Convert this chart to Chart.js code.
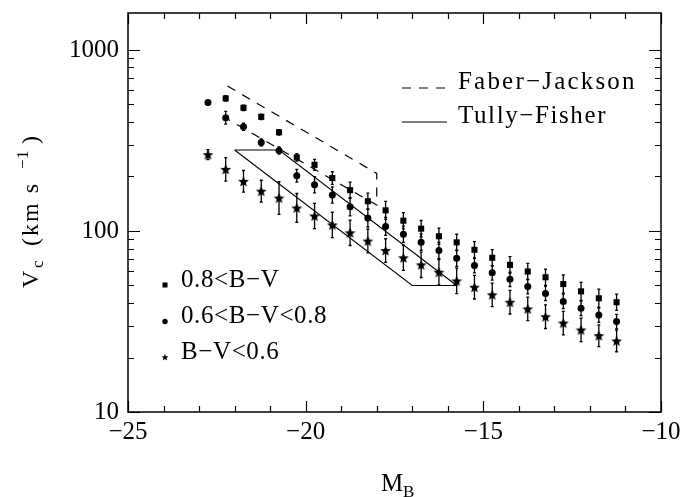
<!DOCTYPE html>
<html>
<head>
<meta charset="utf-8">
<script src="https://cdn.jsdelivr.net/npm/chart.js@4.4.1/dist/chart.umd.min.js"></script>
<style>
  html, body { margin: 0; padding: 0; background: #fff; }
  canvas { display: block; }
</style>
</head>
<body>
<canvas id="c" width="686" height="497"></canvas>
<script>
// Magnitude bins (M_B) for each colour class
const magRed  = [-22.25, -21.75, -21.25, -20.75, -20.25, -19.75, -19.25, -18.75, -18.25, -17.75, -17.25, -16.75,
                 -16.25, -15.75, -15.25, -14.75, -14.25, -13.75, -13.25, -12.75, -12.25, -11.75, -11.25];
const magMid  = [-22.75, -22.25, -21.75, -21.25, -20.75, -20.25, -19.75, -19.25, -18.75, -18.25, -17.75, -17.25,
                 -16.75, -16.25, -15.75, -15.25, -14.75, -14.25, -13.75, -13.25, -12.75, -12.25, -11.75, -11.25];
const magBlue = [-22.75, -22.25, -21.75, -21.25, -20.75, -20.25, -19.75, -19.25, -18.75, -18.25, -17.75, -17.25,
                 -16.75, -16.25, -15.75, -15.25, -14.75, -14.25, -13.75, -13.25, -12.75, -12.25, -11.75, -11.25];

// Circular velocity V_c (km/s)
const vRed  = [540, 479, 427, 351, 255, 232, 196, 168, 146, 130, 114, 103,
               93.5, 86.5, 78.7, 71.1, 65, 59.7, 55.5, 50.9, 46.4, 42.5, 40.4];
const vMid  = [513, 422, 376, 308, 278, 202, 180, 158, 136, 118, 106, 96,
               86.7, 78, 70.6, 64.4, 58.7, 54.1, 49.3, 45.2, 40.8, 37.4, 34.3, 31.6];
const vBlue = [264, 219, 188, 166, 152, 134, 121, 108, 97.7, 88, 78, 71.1,
               65, 59.2, 53, 48.9, 44.4, 40.4, 37.1, 33.6, 31.0, 28.4, 26.4, 24.7];

// Half-length of the error bars, in dex
const errRed  = [0.015, 0.015, 0.015, 0.015, 0.02, 0.03, 0.035, 0.045, 0.045, 0.05, 0.045, 0.045,
                 0.045, 0.045, 0.045, 0.045, 0.045, 0.045, 0.045, 0.05, 0.05, 0.05, 0.045];
const errMid  = [0.01, 0.035, 0.02, 0.02, 0.02, 0.035, 0.045, 0.045, 0.05, 0.05, 0.05, 0.045,
                 0.045, 0.045, 0.045, 0.04, 0.04, 0.04, 0.04, 0.04, 0.04, 0.04, 0.04, 0.04];
const errBlue = [0.028, 0.065, 0.06, 0.06, 0.09, 0.08, 0.07, 0.07, 0.07, 0.065, 0.065, 0.07,
                 0.07, 0.07, 0.07, 0.065, 0.065, 0.065, 0.065, 0.065, 0.065, 0.065, 0.06, 0.06];

// Faber-Jackson and Tully-Fisher relation outlines
const fjMag = [-22.2, -18.0, -18.0, -22.2];
const fjV   = [632, 208, 139, 415];
const tfMag = [-22.0, -20.75, -15.75, -17.0, -22.0];
const tfV   = [280, 280, 50, 50, 280];

// Axis ticks
const xMajor = [-25, -20, -15, -10];
const xMinor = [-24, -23, -22, -21, -19, -18, -17, -16, -14, -13, -12, -11];
const yMajor = [10, 100, 1000];
const yMinor = [20, 30, 40, 50, 60, 70, 80, 90, 200, 300, 400, 500, 600, 700, 800, 900];

const legendColours = ['0.8<B\u2212V', '0.6<B\u2212V<0.8', 'B\u2212V<0.6'];
const legendLines = ['Faber\u2212Jackson', 'Tully\u2212Fisher'];

const FONT = 'Liberation Serif';

function starPath(ctx, cx, cy, ro, ri) {
  ctx.beginPath();
  for (let i = 0; i < 10; i++) {
    const r = i % 2 === 0 ? ro : ri;
    const a = -Math.PI / 2 + i * Math.PI / 5;
    const px = cx + r * Math.cos(a), py = cy + r * Math.sin(a);
    if (i === 0) ctx.moveTo(px, py); else ctx.lineTo(px, py);
  }
  ctx.closePath();
}

function makeStar(size, ro, ri) {
  const c = document.createElement('canvas');
  c.width = size; c.height = size;
  const g = c.getContext('2d');
  g.fillStyle = '#000';
  starPath(g, size / 2, size / 2 + 0.5, ro, ri);
  g.fill();
  return c;
}
const starImg = makeStar(13, 5.7, 2.5);

const pts = (xs, ys) => xs.map((v, i) => ({ x: v, y: ys[i] }));

// Inward ticks and frame on all four sides, plus error bars, legend and axis titles
const decorations = {
  id: 'decorations',
  beforeDatasetsDraw(chart) {
    const { ctx, scales: { x, y } } = chart;
    ctx.save();
    ctx.strokeStyle = '#000';
    ctx.lineWidth = 1.3;
    chart.data.datasets.forEach(ds => {
      if (!ds.errDex) return;
      ds.data.forEach((p, i) => {
        const f = Math.pow(10, ds.errDex[i]);
        const px = x.getPixelForValue(p.x);
        const top = y.getPixelForValue(p.y * f);
        const bot = y.getPixelForValue(p.y / f);
        ctx.beginPath();
        ctx.moveTo(px, top); ctx.lineTo(px, bot);
        ctx.moveTo(px - 1.5, top); ctx.lineTo(px + 1.5, top);
        ctx.moveTo(px - 1.5, bot); ctx.lineTo(px + 1.5, bot);
        ctx.stroke();
      });
    });
    ctx.restore();
  },
  afterDraw(chart) {
    const { ctx, chartArea: a, scales: { x, y } } = chart;
    ctx.save();
    ctx.strokeStyle = '#000';
    ctx.fillStyle = '#000';
    ctx.lineWidth = 1.5;
    ctx.strokeRect(a.left, a.top, a.right - a.left, a.bottom - a.top);

    ctx.lineWidth = 1.2;
    ctx.beginPath();
    const xTick = (v, len) => {
      const p = Math.round(x.getPixelForValue(v)) + 0.5;
      ctx.moveTo(p, a.bottom); ctx.lineTo(p, a.bottom - len);
      ctx.moveTo(p, a.top); ctx.lineTo(p, a.top + len);
    };
    const yTick = (v, len) => {
      const p = Math.round(y.getPixelForValue(v)) + 0.5;
      ctx.moveTo(a.left, p); ctx.lineTo(a.left + len, p);
      ctx.moveTo(a.right, p); ctx.lineTo(a.right - len, p);
    };
    xMajor.forEach(v => xTick(v, 11));
    xMinor.forEach(v => xTick(v, 6));
    yMajor.forEach(v => yTick(v, 12));
    yMinor.forEach(v => yTick(v, 6));
    ctx.stroke();

    // Relation legend (upper right)
    ctx.lineWidth = 1.2;
    ctx.beginPath();
    ctx.setLineDash([9, 8]);
    ctx.moveTo(402, 88); ctx.lineTo(448, 88);
    ctx.stroke();
    ctx.setLineDash([]);
    ctx.beginPath();
    ctx.moveTo(402, 122); ctx.lineTo(447, 122);
    ctx.stroke();

    ctx.font = `25px "${FONT}"`;
    ctx.textBaseline = 'alphabetic';
    ctx.textAlign = 'left';
    ctx.letterSpacing = '2.2px';
    ctx.fillText(legendLines[0], 458, 89);
    ctx.letterSpacing = '1.6px';
    ctx.fillText(legendLines[1], 458, 123);

    // Colour class legend (lower left)
    ctx.letterSpacing = '0.6px';
    ctx.fillText(legendColours[0], 181, 287);
    ctx.fillText(legendColours[1], 181, 323);
    ctx.fillText(legendColours[2], 181, 359);
    ctx.letterSpacing = '0px';
    ctx.fillRect(162.5, 282.5, 5, 5);
    ctx.beginPath(); ctx.arc(165, 321.5, 2.7, 0, Math.PI * 2); ctx.fill();
    starPath(ctx, 165, 357.5, 3.6, 1.6); ctx.fill();

    // x-axis title: M_B
    ctx.font = `25px "${FONT}"`;
    ctx.fillText('M', 381, 491);
    ctx.font = `17px "${FONT}"`;
    ctx.fillText('B', 403, 497);

    // y-axis title: V_c (km s^-1)
    ctx.save();
    ctx.translate(38, 288);
    ctx.rotate(-Math.PI / 2);
    ctx.font = `24px "${FONT}"`;
    ctx.fillText('V', 0, 0);
    ctx.font = `17px "${FONT}"`;
    ctx.fillText('c', 20, 5);
    ctx.font = `24px "${FONT}"`;
    ctx.letterSpacing = '2px';
    ctx.fillText('(km s', 42, 0);
    ctx.letterSpacing = '0.5px';
    ctx.font = `17px "${FONT}"`;
    ctx.fillText('\u22121', 119, -10);
    ctx.letterSpacing = '0px';
    ctx.font = `24px "${FONT}"`;
    ctx.fillText(')', 144, 0);
    ctx.restore();

    ctx.restore();
  }
};

new Chart(document.getElementById('c'), {
  type: 'scatter',
  data: {
    datasets: [
      { label: legendColours[0], data: pts(magRed, vRed), errDex: errRed,
        pointStyle: 'rect', pointRadius: 4.3, backgroundColor: '#000', borderWidth: 0 },
      { label: legendColours[1], data: pts(magMid, vMid), errDex: errMid,
        pointStyle: 'circle', pointRadius: 3.5, backgroundColor: '#000', borderWidth: 0 },
      { label: legendColours[2], data: pts(magBlue, vBlue), errDex: errBlue,
        pointStyle: starImg, pointRadius: 6, backgroundColor: '#000', borderWidth: 0 },
      { label: legendLines[0], data: pts(fjMag, fjV), showLine: true, pointRadius: 0,
        borderColor: '#000', borderWidth: 1.2, borderDash: [9, 8], tension: 0, fill: false },
      { label: legendLines[1], data: pts(tfMag, tfV), showLine: true, pointRadius: 0,
        borderColor: '#000', borderWidth: 1.1, tension: 0, fill: false }
    ]
  },
  options: {
    responsive: false,
    animation: false,
    devicePixelRatio: 1,
    layout: { padding: { top: 13, right: 25, left: 0, bottom: 0 } },
    plugins: { legend: { display: false }, tooltip: { enabled: false } },
    scales: {
      x: {
        type: 'linear', min: -25, max: -10,
        grid: { display: false, drawTicks: false },
        border: { display: false },
        afterBuildTicks: s => { s.ticks = xMajor.map(v => ({ value: v })); },
        afterFit: s => { s.height = 85; s.paddingLeft = 0; s.paddingRight = 0; },
        ticks: {
          autoSkip: false, maxRotation: 0, padding: 5, color: '#000',
          font: { family: FONT, size: 25 },
          callback: v => (v < 0 ? '\u2212' + Math.abs(v) : String(v))
        }
      },
      y: {
        type: 'logarithmic', min: 10, max: 1600,
        grid: { display: false, drawTicks: false },
        border: { display: false },
        afterBuildTicks: s => { s.ticks = yMajor.map(v => ({ value: v })); },
        afterFit: s => { s.width = 128; s.paddingTop = 0; s.paddingBottom = 0; },
        ticks: {
          autoSkip: false, padding: 9, color: '#000',
          font: { family: FONT, size: 25 },
          callback: v => String(v)
        }
      }
    }
  },
  plugins: [decorations]
});
</script>
</body>
</html>
